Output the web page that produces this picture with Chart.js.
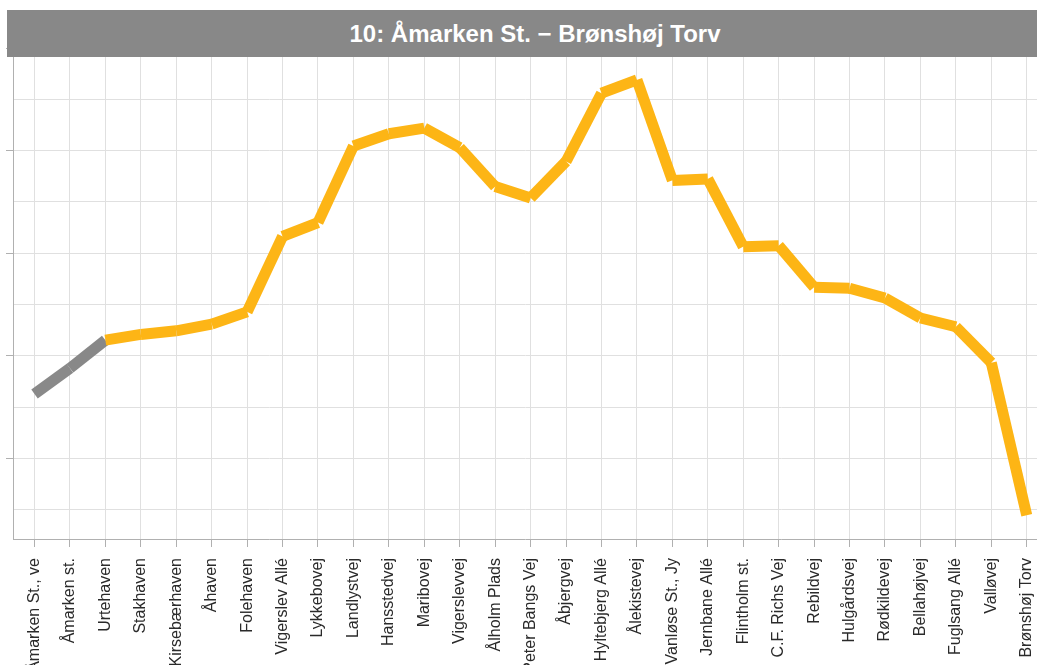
<!DOCTYPE html>
<html>
<head>
<meta charset="utf-8">
<script src="https://cdn.jsdelivr.net/npm/chart.js@4/dist/chart.umd.min.js"></script>
<style>
  html, body { margin: 0; padding: 0; background: #fff; }
  #wrap { position: relative; width: 1037px; height: 665px; overflow: hidden; }
  #title {
    position: absolute; left: 7px; top: 10px; width: 1030px; height: 47px;
    background: #888888; color: #fff; font: bold 24px "Liberation Sans", Arial, sans-serif;
    display: flex; align-items: center; justify-content: center; padding-left: 26px; box-sizing: border-box;
  }
  canvas { position: absolute; left: 0; top: 0; }
</style>
</head>
<body>
<div id="wrap">
  <canvas id="c" width="1037" height="665"></canvas>
  <div id="title">10: Åmarken St. − Brønshøj Torv</div>
</div>
<script>
const stops = ["Åmarken St., ve", "Åmarken st.", "Urtehaven", "Stakhaven", "Kirsebærhaven", "Åhaven",
  "Folehaven", "Vigerslev Allé", "Lykkebovej", "Landlystvej", "Hansstedvej", "Maribovej",
  "Vigerslevvej", "Ålholm Plads", "Peter Bangs Vej", "Åbjergvej", "Hyltebjerg Allé", "Ålekistevej",
  "Vanløse St., Jy", "Jernbane Allé", "Flintholm st.", "C.F. Richs Vej", "Rebildvej", "Hulgårdsvej",
  "Rødkildevej", "Bellahøjvej", "Fuglsang Allé", "Valløvej", "Brønshøj Torv"];
const values = [2.26, 2.76, 3.31, 3.42, 3.49, 3.62, 3.86, 5.33, 5.60, 7.09, 7.33, 7.44, 7.06, 6.30,
  6.08, 6.79, 8.12, 8.38, 6.42, 6.45, 5.13, 5.15, 4.34, 4.32, 4.13, 3.74, 3.57, 2.87, -0.10];
const greySegments = 2; // first segments drawn in grey

const points = values.map((v, i) => ({ x: i, y: v }));

new Chart(document.getElementById('c'), {
  type: 'line',
  data: {
    datasets: [{
      data: points,
      borderColor: '#FDB515',
      borderWidth: 11,
      borderCapStyle: 'butt',
      borderJoinStyle: 'miter',
      pointRadius: 0,
      tension: 0,
      segment: {
        borderColor: ctx => ctx.p0DataIndex < greySegments
          ? (ctx.p0DataIndex % 2 ? '#888888' : '#898989')
          : (ctx.p0DataIndex % 2 ? '#FDB515' : '#FDB516')
      }
    }]
  },
  options: {
    responsive: false,
    animation: false,
    layout: { padding: { left: 6, top: 48, right: 0, bottom: 0 } },
    plugins: { legend: { display: false }, tooltip: { enabled: false }, title: { display: false } },
    scales: {
      x: {
        type: 'linear',
        min: -0.607,
        max: 28.29,
        afterFit: s => { s.height = 126; s.paddingRight = 0; s.paddingLeft = 0; },
        grid: { color: '#e0e0e0', tickColor: '#b0b0b0', tickLength: 8, lineWidth: 1 },
        border: { color: '#b0b0b0' },
        ticks: {
          stepSize: 1, includeBounds: false, autoSkip: false, maxTicksLimit: 100,
          minRotation: 90, maxRotation: 90, padding: 11,
          color: '#2a2a2a',
          font: { family: '"Liberation Sans", Arial, sans-serif', size: 16 },
          callback: v => stops[v] ?? ''
        }
      },
      y: {
        min: -0.565,
        max: 9,
        grid: {
          color: '#e0e0e0', lineWidth: 1, tickLength: 7,
          tickColor: ctx => (ctx.tick && Math.abs(ctx.tick.value % 2) === 1) ? '#b0b0b0' : 'rgba(0,0,0,0)'
        },
        border: { color: '#b0b0b0' },
        ticks: { display: false, stepSize: 1, includeBounds: false }
      }
    }
  }
});
</script>
</body>
</html>
